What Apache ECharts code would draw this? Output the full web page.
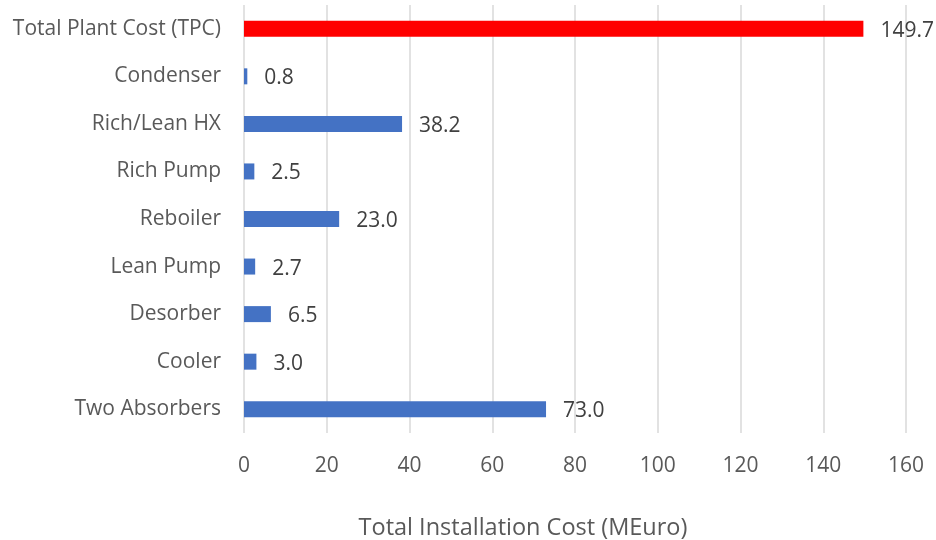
<!DOCTYPE html>
<html>
<head>
<meta charset="utf-8">
<script src="https://cdn.jsdelivr.net/npm/echarts@6/dist/echarts.min.js"></script>
<style>
  html, body { margin: 0; padding: 0; background: #fff; }
  #chart { width: 936px; height: 540px; }
</style>
</head>
<body>
<div id="chart"></div>
<script>
// Cost items, listed top to bottom
const categories = [
  'Total Plant Cost (TPC)',
  'Condenser',
  'Rich/Lean HX',
  'Rich Pump',
  'Reboiler',
  'Lean Pump',
  'Desorber',
  'Cooler',
  'Two Absorbers'
];
// Installation cost per item, MEuro
const costs = [149.7, 0.8, 38.2, 2.5, 23.0, 2.7, 6.5, 3.0, 73.0];
const axisTitle = 'Total Installation Cost (MEuro)';

const FONT = '"Open Sans", "Liberation Sans", sans-serif';

const chart = echarts.init(document.getElementById('chart'), null, { renderer: 'canvas' });

chart.setOption({
  backgroundColor: '#ffffff',
  animation: false,
  grid: {
    left: 244, right: 30, top: 5, bottom: 107,
    containLabel: false,
    outerBoundsMode: 'none'
  },
  xAxis: {
    type: 'value',
    min: 0,
    max: 160,
    interval: 20,
    axisLine: { show: false },
    axisTick: { show: false },
    splitLine: { show: true, lineStyle: { color: '#d9d9d9', width: 1.5 } },
    axisLabel: { color: '#595959', fontSize: 21, fontFamily: FONT, margin: 23 },
    name: axisTitle,
    nameLocation: 'middle',
    nameGap: 83,
    nameTextStyle: {
      color: '#595959',
      fontSize: 23.5,
      fontFamily: FONT,
      padding: [0, 104, 0, 0]
    }
  },
  yAxis: {
    type: 'category',
    inverse: true,
    data: categories,
    axisLine: { show: false },
    axisTick: { show: false },
    axisLabel: {
      color: '#595959',
      fontSize: 21,
      fontFamily: FONT,
      margin: 23,
      padding: [4, 0, 0, 0]
    }
  },
  series: [{
    type: 'bar',
    data: costs.map((v, i) => ({
      value: v,
      itemStyle: { color: i === 0 ? '#ff0000' : '#4472c4' }
    })),
    barWidth: 16,
    label: {
      show: true,
      position: 'right',
      distance: 17,
      offset: [0, 2],
      color: '#404040',
      fontSize: 21,
      fontFamily: FONT,
      formatter: p => p.value.toFixed(1)
    }
  }]
});
</script>
</body>
</html>
